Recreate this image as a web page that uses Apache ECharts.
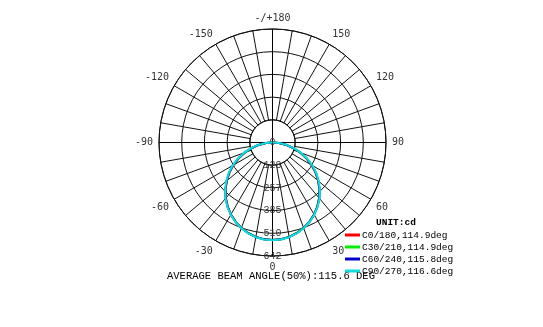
<!DOCTYPE html>
<html>
<head>
<meta charset="utf-8">
<script src="https://cdn.jsdelivr.net/npm/echarts@6/dist/echarts.min.js"></script>
<style>
html,body{margin:0;padding:0;background:#fff;}
#chart{width:543px;height:327px;}
</style>
</head>
<body>
<div id="chart"></div>
<script>
// gamma angles (deg), -90 .. 90
var gammaAngles = [-90,-85,-80,-75,-70,-65,-60,-55,-50,-45,-40,-35,-30,-25,-20,-15,-10,-5,0,5,10,15,20,25,30,35,40,45,50,55,60,65,70,75,80,85,90];
// intensities (cd)
var c0_180  = [2,36,79,122,166,211,255,297,337,375,410,442,470,494,514,530,542,549,552,549,542,530,514,494,470,442,410,375,337,297,255,211,166,122,79,36,2];
var c30_210 = [2,37,80,123,167,212,256,298,338,376,411,442,470,494,514,530,542,549,551,549,542,530,514,494,470,442,411,376,338,298,256,212,167,123,80,37,2];
var c60_240 = [2,38,81,125,169,214,258,300,339,377,412,443,471,495,515,531,543,550,552,550,543,531,515,495,471,443,412,377,339,300,258,214,169,125,81,38,2];
var c90_270 = [3,40,84,128,172,217,261,303,342,379,414,445,472,496,516,532,544,551,553,551,544,532,516,496,472,445,414,379,342,303,261,217,172,128,84,40,3];
var seriesNames = ['C0/180,114.9deg','C30/210,114.9deg','C60/240,115.8deg','C90/270,116.6deg'];
var seriesColors = ['#ff0000','#00ee00','#0000cc','#11dddd'];
var radiusTickLabels = ['0','128','257','385','510','642'];
var radiusMax = 642;
var unitText = 'UNIT:cd';
var beamText = 'AVERAGE BEAM ANGLE(50%):115.6 DEG';

var step = radiusMax / 5;
function toPairs(vals){
  return vals.map(function(v,i){
    var a = gammaAngles[i];
    return [v, a < 0 ? a + 360 : a];
  });
}
var allData = [c0_180, c30_210, c60_240, c90_270];
var series = allData.map(function(d, i){
  return {
    name: seriesNames[i], type: 'line', coordinateSystem: 'polar', polarIndex: 1,
    data: toPairs(d), showSymbol: false, smooth: false,
    lineStyle: {color: seriesColors[i], width: 2},
    itemStyle: {color: seriesColors[i]},
    z: 3 + i
  };
});

var chart = echarts.init(document.getElementById('chart'), null, {renderer:'canvas'});
var cx = 272.5, cy = 142.5, R = 113.5;
chart.setOption({
  animation: false,
  backgroundColor: '#fff',
  title: [
    {text: unitText, left: 376, top: 218, padding: 0,
     textStyle: {fontFamily: 'Liberation Mono', fontWeight: 'bold', fontSize: 9.5, color: '#000'}},
    {text: beamText, left: 167, top: 271, padding: 0,
     textStyle: {fontFamily: 'Liberation Mono', fontWeight: 'normal', fontSize: 10.5, color: '#000'}}
  ],
  legend: {
    orient: 'vertical', left: 345, top: 230, padding: 0,
    itemWidth: 15, itemHeight: 3, itemGap: 2, icon: 'rect',
    data: seriesNames,
    textStyle: {fontFamily: 'Liberation Mono', fontSize: 9.5, color: '#000', padding: [0,0,0,-3]},
    z: 10
  },
  polar: [
    {center: [cx, cy], radius: [R / 5, R]},
    {center: [cx, cy], radius: [0, R]}
  ],
  angleAxis: [
    {polarIndex: 0, type: 'value', min: 0, max: 360, interval: 10, startAngle: 270, clockwise: false,
     axisLine: {show: true, lineStyle: {color: '#111', width: 1}},
     axisTick: {show: false},
     splitLine: {show: true, lineStyle: {color: '#111', width: 1}},
     axisLabel: {show: true, margin: 6, fontFamily: 'DejaVu Sans Mono', fontSize: 10, color: '#333',
       formatter: function(v){
         if (v % 30 !== 0 || v === 360) return '';
         if (v === 180) return '-/+180';
         if (v > 180) return String(v - 360);
         return String(v);
       }}
    },
    {polarIndex: 1, type: 'value', min: 0, max: 360, interval: 90, startAngle: 270, clockwise: false,
     axisLine: {show: false}, axisTick: {show: false}, axisLabel: {show: false},
     splitLine: {show: true, lineStyle: {color: '#000', width: 1}}
    }
  ],
  radiusAxis: [
    {polarIndex: 0, type: 'value', min: step, max: radiusMax, interval: step,
     axisLine: {show: false}, axisTick: {show: false}, axisLabel: {show: false},
     splitLine: {show: true, lineStyle: {color: '#111', width: 1}}
    },
    {polarIndex: 1, type: 'value', min: 0, max: radiusMax, interval: step,
     axisLine: {show: true, lineStyle: {color: '#000', width: 1}}, axisTick: {show: false},
     splitLine: {show: false},
     axisLabel: {show: true, margin: 0, rotate: 0, align: 'center', verticalAlign: 'middle',
       padding: [0, 0, 5, 0],
       fontFamily: 'Liberation Mono', fontSize: 10, color: '#333',
       formatter: function(v){ var i = Math.round(v / step); return radiusTickLabels[i] || ''; }}
    }
  ],
  series: series
});
</script>
</body>
</html>
